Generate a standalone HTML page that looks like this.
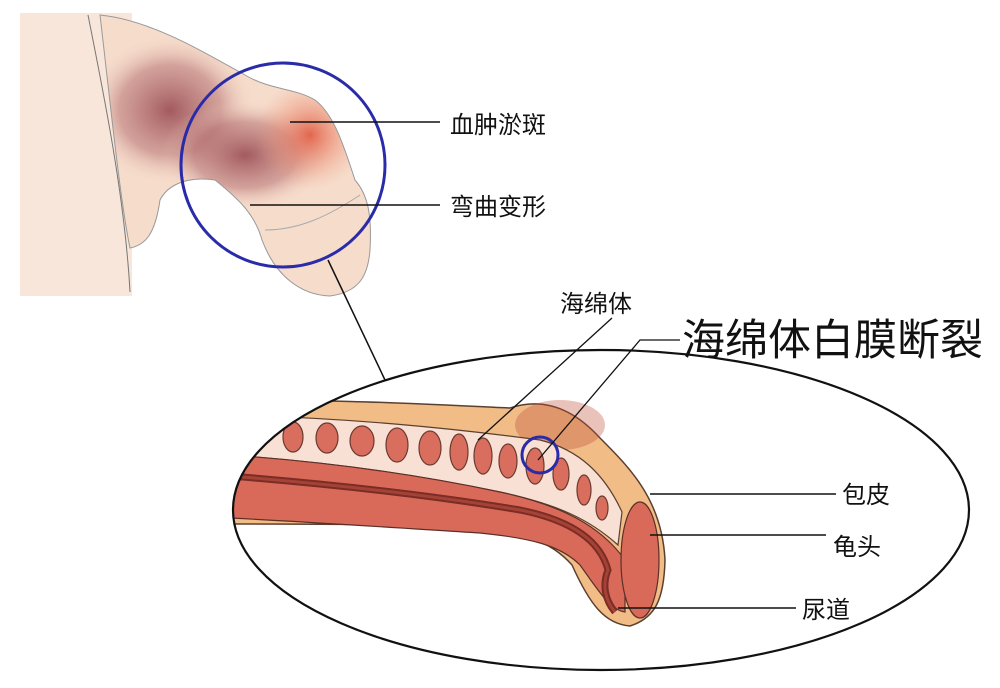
<!DOCTYPE html>
<html><head><meta charset="utf-8"><style>
html,body{margin:0;padding:0;background:#fff;width:1000px;height:688px;overflow:hidden}
svg{display:block}
text{font-family:"Liberation Sans","Noto Sans CJK SC",sans-serif;fill:#111}
</style></head><body>
<svg width="1000" height="688" viewBox="0 0 1000 688">
<defs>
<radialGradient id="bruise" cx="0.5" cy="0.5" r="0.5">
<stop offset="0" stop-color="#8e3a45" stop-opacity="0.8"/>
<stop offset="0.6" stop-color="#a85a60" stop-opacity="0.45"/>
<stop offset="1" stop-color="#f3d6c6" stop-opacity="0"/>
</radialGradient>
<radialGradient id="red" cx="0.5" cy="0.5" r="0.5">
<stop offset="0" stop-color="#e0523a" stop-opacity="0.85"/>
<stop offset="1" stop-color="#f0a080" stop-opacity="0"/>
</radialGradient>
<clipPath id="ell"><ellipse cx="601" cy="510" rx="368" ry="160"/></clipPath>
<clipPath id="pen"><path d="M100,15 C150,20 200,50 245,75 C270,90 295,88 315,100 C335,115 345,150 355,180 C368,195 372,215 370,250 C368,275 360,292 330,296 C300,295 275,275 262,240 C255,215 240,200 215,180 C180,175 165,190 160,200 C155,235 145,245 130,248 C120,200 110,100 100,15 Z"/></clipPath>
</defs>
<rect x="20" y="13" width="112" height="283" fill="#f8e6da"/>
<path d="M88,15 C105,100 125,200 130,292" stroke="#777" stroke-width="1" fill="none"/>
<path d="M100,15 C150,20 200,50 245,75 C270,90 295,88 315,100 C335,115 345,150 355,180 C368,195 372,215 370,250 C368,275 360,292 330,296 C300,295 275,275 262,240 C255,215 240,200 215,180 C180,175 165,190 160,200 C155,235 145,245 130,248 C120,200 110,100 100,15 Z" fill="#f6dccb"/>
<g clip-path="url(#pen)">
<ellipse cx="170" cy="110" rx="85" ry="75" fill="url(#bruise)"/>
<ellipse cx="245" cy="155" rx="85" ry="55" fill="url(#bruise)"/>
<ellipse cx="310" cy="135" rx="55" ry="55" fill="url(#red)"/>
</g>
<path d="M100,15 C150,20 200,50 245,75 C270,90 295,88 315,100 C335,115 345,150 355,180 C368,195 372,215 370,250 C368,275 360,292 330,296 C300,295 275,275 262,240 C255,215 240,200 215,180 C180,175 165,190 160,200 C155,235 145,245 130,248 C120,200 110,100 100,15 Z" fill="none" stroke="#999" stroke-width="1"/>
<path d="M265,230 C300,230 330,215 360,195" stroke="#aaa" stroke-width="1" fill="none"/>
<circle cx="283" cy="165" r="102" fill="none" stroke="#2a2ba8" stroke-width="3"/>
<line x1="290" y1="122" x2="440" y2="122" stroke="#111" stroke-width="1.5"/>
<line x1="250" y1="205" x2="440" y2="205" stroke="#111" stroke-width="1.5"/>
<line x1="328" y1="260" x2="385" y2="380" stroke="#111" stroke-width="1.5"/>
<text x="450" y="133" font-size="24">血肿淤斑</text>
<text x="450" y="215" font-size="24">弯曲变形</text>
<g clip-path="url(#ell)">
<path d="M230,402 C320,398 420,404 510,408 C540,398 570,405 600,438 C630,468 662,500 665,560 C664,600 655,618 630,626 C605,624 590,605 572,565 C550,540 520,532 480,528 C400,524 300,524 230,524 Z" fill="#f1bc86" stroke="#5a4030" stroke-width="1.5"/>
<ellipse cx="560" cy="425" rx="45" ry="25" fill="#c0503a" opacity="0.35"/>
<path d="M230,415 C350,418 450,428 540,440 C580,450 605,475 622,512 L618,545 C590,520 560,505 500,492 C420,475 330,462 230,455 Z" fill="#f9e0d4" stroke="#5a4030" stroke-width="1.2"/>
<g fill="#d96d5e" stroke="#6a3a30" stroke-width="1.2">
<ellipse cx="293" cy="437" rx="10" ry="15"/>
<ellipse cx="327" cy="438" rx="11" ry="15"/>
<ellipse cx="362" cy="441" rx="12" ry="15"/>
<ellipse cx="397" cy="445" rx="11" ry="17"/>
<ellipse cx="430" cy="448" rx="11" ry="17"/>
<ellipse cx="459" cy="452" rx="9" ry="18"/>
<ellipse cx="483" cy="456" rx="9" ry="18"/>
<ellipse cx="508" cy="461" rx="9" ry="17"/>
<ellipse cx="535" cy="466" rx="9" ry="18"/>
<ellipse cx="561" cy="474" rx="8" ry="16"/>
<ellipse cx="584" cy="490" rx="7" ry="15"/>
<ellipse cx="602" cy="508" rx="6" ry="12"/>
</g>
<path d="M230,455 C330,462 420,475 500,492 C560,505 600,525 625,560 L625,612 C610,610 598,590 580,565 C560,545 530,538 480,533 C400,528 310,522 230,518 Z" fill="#d96a5a" stroke="#5a3028" stroke-width="1.2"/>
<ellipse cx="640" cy="560" rx="19" ry="58" fill="#d96a5a" stroke="#5a3028" stroke-width="1.2"/>
<path d="M230,476 C330,484 430,495 520,510 C570,520 600,540 608,570 C602,585 605,600 615,612" stroke="#7a2c25" stroke-width="7" fill="none"/>
<path d="M230,476 C330,484 430,495 520,510 C570,520 600,540 608,570 C602,585 605,600 615,612" stroke="#a44335" stroke-width="3" fill="none"/>
</g>
<ellipse cx="601" cy="510" rx="368" ry="160" fill="none" stroke="#111" stroke-width="2.2"/>
<circle cx="540" cy="455" r="18" fill="none" stroke="#2a2ba8" stroke-width="3"/>
<line x1="478" y1="440" x2="612" y2="318" stroke="#111" stroke-width="1.3"/>
<polyline points="538,460 640,340 680,340" fill="none" stroke="#111" stroke-width="1.3"/>
<line x1="650" y1="494" x2="836" y2="494" stroke="#111" stroke-width="1.5"/>
<line x1="650" y1="535" x2="826" y2="535" stroke="#111" stroke-width="1.5"/>
<line x1="618" y1="608" x2="796" y2="608" stroke="#111" stroke-width="1.5"/>
<text x="560" y="312" font-size="24">海绵体</text>
<text x="682" y="355" font-size="43">海绵体白膜断裂</text>
<text x="842" y="503" font-size="24">包皮</text>
<text x="833" y="555" font-size="24">龟头</text>
<text x="802" y="618" font-size="24">尿道</text>
</svg>
</body></html>
